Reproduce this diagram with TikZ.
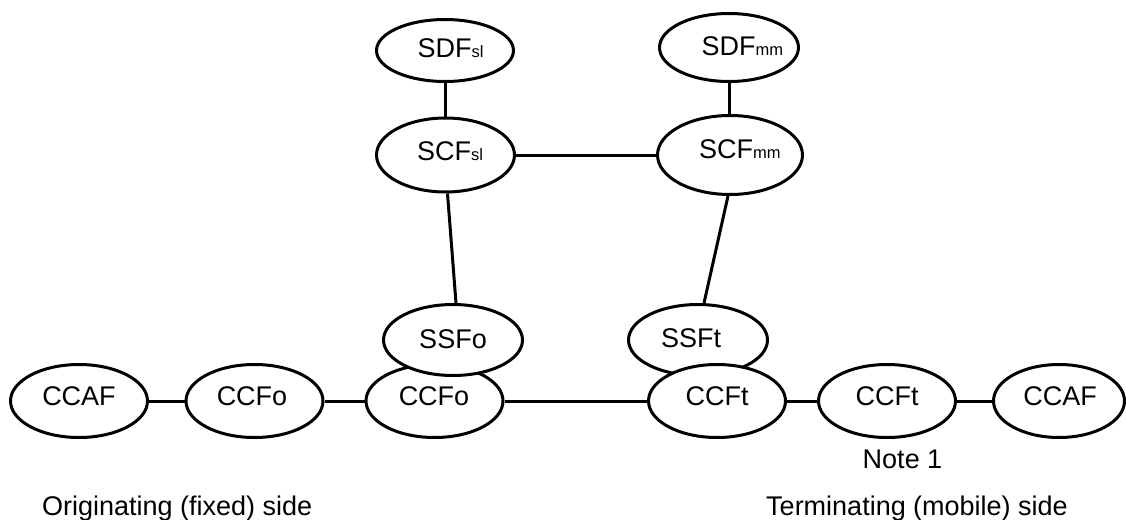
\documentclass[tikz,border=0pt]{standalone}
\usepackage{fontspec}
\setmainfont{Liberation Sans}
\usetikzlibrary{shapes.geometric}
\newcommand{\subsc}[1]{\rlap{\fontsize{16.5}{17}\selectfont #1}}
\begin{document}
\begin{tikzpicture}[x=1pt,y=-1pt,
  fn/.style={ellipse, draw, line width=3pt, fill=white, inner sep=0pt,
             minimum width=137pt, minimum height=73pt},
  lbl/.style={anchor=base, inner sep=0pt, font=\fontsize{27}{30}\selectfont},
  link/.style={line width=3pt}]
\useasboundingbox (0,0) rectangle (1126,519);

% service functions (upper part)
\node[fn, minimum width=137pt, minimum height=62pt] (sdfsl) at (445,50.5) {};
\node[fn, minimum width=138pt, minimum height=74pt] (scfsl) at (445.5,155) {};
\node[fn, minimum width=139pt, minimum height=68pt] (sdfmm) at (729,47.5) {};
\node[fn, minimum width=145pt, minimum height=79pt] (scfmm) at (730,155) {};

% call control chain, originating side
\node[fn] (ccafo) at (79,401) {};
\node[fn] (ccfoa) at (254.5,401) {};
\node[fn] (ccfob) at (434.5,401) {};
\node[fn, minimum width=139pt, minimum height=71pt] (ssfo) at (453,340) {};

% call control chain, terminating side
\node[fn, minimum width=139pt, minimum height=71pt] (ssft) at (698,340) {};
\node[fn] (ccfta) at (717,401) {};
\node[fn] (ccftb) at (887,401) {};
\node[fn, minimum width=131pt] (ccaft) at (1059,401) {};

% connectors
\draw[link] (sdfsl.south) -- (sdfsl.south |- scfsl.north);
\draw[link] (sdfmm.south) -- (sdfmm.south |- scfmm.north);
\draw[link] (scfsl.east) -- (scfmm.west);
\draw[link] ([xshift=2pt]scfsl.south) -- ([xshift=3pt]ssfo.north);
\draw[link] ([xshift=-2pt]scfmm.south) -- ([xshift=6pt]ssft.north);
\draw[link] (ccafo.east) -- (ccfoa.west);
\draw[link] (ccfoa.east) -- (ccfob.west);
\draw[link] (ccfob.east) -- (ccfta.west);
\draw[link] (ccfta.east) -- (ccftb.west);
\draw[link] (ccftb.east) -- (ccaft.west);

% labels
\node[lbl] (tsdfsl) at (444.5,57) {SDF\subsc{sl}};
\node[lbl] (tscfsl) at (444,160) {SCF\subsc{sl}};
\node[lbl] (tsdfmm) at (728.5,56) {SDF\subsc{mm}};
\node[lbl] (tscfmm) at (726,158) {SCF\subsc{mm}};
\node[lbl] (tssfo) at (453,348) {SSFo};
\node[lbl] (tssft) at (691,347) {SSFt};
\node[lbl] (tccafo) at (79,405) {CCAF};
\node[lbl] (tccfoa) at (252,405) {CCFo};
\node[lbl] (tccfob) at (434,405) {CCFo};
\node[lbl] (tccfta) at (717,405) {CCFt};
\node[lbl] (tccftb) at (887,405) {CCFt};
\node[lbl] (tccaft) at (1060,405) {CCAF};
\node[lbl] (note) at (902.5,468) {Note 1};
\node[lbl, anchor=base west] (orig) at (42,515) {Originating (fixed) side};
\node[lbl, anchor=base west] (term) at (766,515) {Terminating (mobile) side};
\end{tikzpicture}
\end{document}
